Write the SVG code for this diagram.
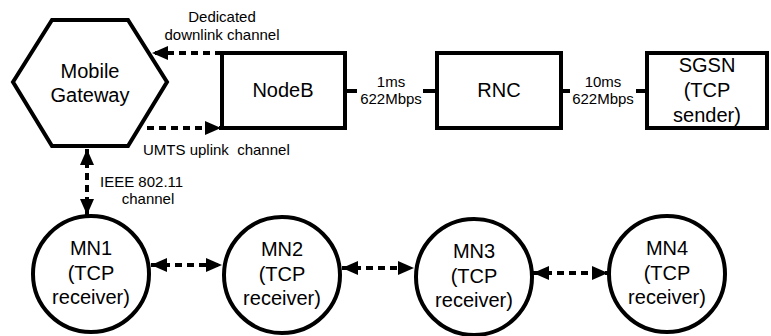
<svg xmlns="http://www.w3.org/2000/svg" width="771" height="336" viewBox="0 0 771 336">
<defs>
<style>
.shape{fill:#fff;stroke:#000;stroke-width:4;stroke-linejoin:miter}
.stub{stroke:#000;stroke-width:4;fill:none}
.dash{stroke:#000;stroke-width:4;fill:none;stroke-dasharray:7 5}
.big{font-family:"Liberation Sans",Arial,sans-serif;font-size:20px;fill:#000;text-anchor:middle}
.small{font-family:"Liberation Sans",Arial,sans-serif;font-size:15px;fill:#000;text-anchor:middle}
</style>
<marker id="ah" markerUnits="userSpaceOnUse" markerWidth="18" markerHeight="14" refX="16" refY="7" orient="auto-start-reverse">
<path d="M0,0 L16,7 L0,14 Z" fill="#000"/>
</marker>
</defs>
<rect width="771" height="336" fill="#fff"/>
<g id="connectors">
<line class="dash" x1="222" y1="53" x2="152" y2="53" marker-end="url(#ah)"/>
<line class="dash" x1="147" y1="128" x2="221" y2="128" marker-end="url(#ah)"/>
<line class="dash" x1="87" y1="149" x2="87" y2="215" marker-start="url(#ah)" marker-end="url(#ah)"/>
<line class="dash" x1="151" y1="265" x2="222" y2="265" marker-start="url(#ah)" marker-end="url(#ah)"/>
<line class="dash" x1="342" y1="268" x2="414" y2="268" marker-start="url(#ah)" marker-end="url(#ah)"/>
<line class="dash" x1="533" y1="273" x2="608" y2="273" marker-start="url(#ah)" marker-end="url(#ah)"/>
<line class="stub" x1="345" y1="91" x2="357" y2="91"/>
<line class="stub" x1="423" y1="91" x2="437" y2="91"/>
<line class="stub" x1="561" y1="91" x2="570" y2="91"/>
<line class="stub" x1="636" y1="91" x2="647" y2="91"/>
<text class="small" x="222" y="22">Dedicated</text>
<text class="small" x="222" y="40">downlink channel</text>
<text class="small" x="143" y="155" style="text-anchor:start" xml:space="preserve">UMTS uplink  channel</text>
<text class="small" x="100" y="187" style="text-anchor:start">IEEE 802.11</text>
<text class="small" x="148" y="204">channel</text>
<text class="small" x="391" y="87">1ms</text>
<text class="small" x="391" y="104">622Mbps</text>
<text class="small" x="603" y="87">10ms</text>
<text class="small" x="603" y="104">622Mbps</text>
</g>
<g id="gateway">
<polygon class="shape" points="13,82 52,20 128,20 167,82 128,146 52,146"/>
<text class="big" x="90" y="78">Mobile</text>
<text class="big" x="90" y="102">Gateway</text>
</g>
<g id="nodeb">
<rect class="shape" x="222" y="53" width="123" height="75"/>
<text class="big" x="283" y="97">NodeB</text>
</g>
<g id="rnc">
<rect class="shape" x="437" y="53" width="124" height="75"/>
<text class="big" x="499" y="97">RNC</text>
</g>
<g id="sgsn">
<rect class="shape" x="647" y="53" width="120" height="75"/>
<text class="big" x="707" y="72">SGSN</text>
<text class="big" x="707" y="97">(TCP</text>
<text class="big" x="707" y="122">sender)</text>
</g>
<g id="mn1">
<circle class="shape" cx="91" cy="274" r="58"/>
<text class="big" x="91" y="255">MN1</text>
<text class="big" x="91" y="280">(TCP</text>
<text class="big" x="91" y="304">receiver)</text>
</g>
<g id="mn2">
<circle class="shape" cx="282" cy="275" r="58"/>
<text class="big" x="282" y="256">MN2</text>
<text class="big" x="282" y="281">(TCP</text>
<text class="big" x="282" y="305">receiver)</text>
</g>
<g id="mn3">
<circle class="shape" cx="474" cy="277" r="58"/>
<text class="big" x="474" y="258">MN3</text>
<text class="big" x="474" y="283">(TCP</text>
<text class="big" x="474" y="307">receiver)</text>
</g>
<g id="mn4">
<circle class="shape" cx="667" cy="274" r="58"/>
<text class="big" x="667" y="255">MN4</text>
<text class="big" x="667" y="280">(TCP</text>
<text class="big" x="667" y="304">receiver)</text>
</g>
</svg>
